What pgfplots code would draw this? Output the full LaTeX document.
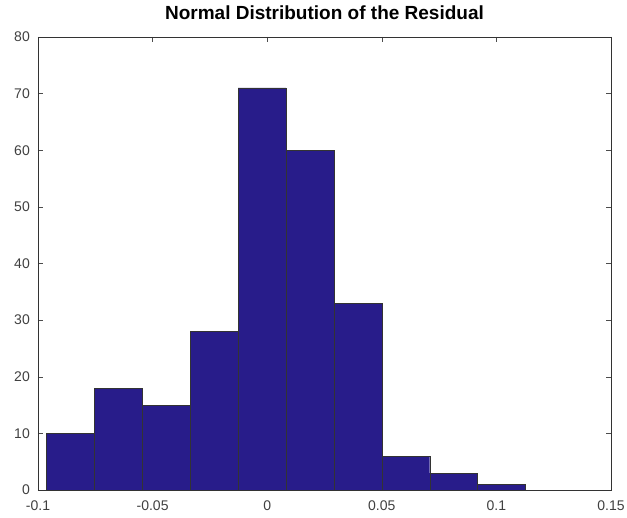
\documentclass[border=0pt]{standalone}
\usepackage{pgfplots}
\pgfplotsset{compat=1.18}
\usepackage{fontspec}
\setmainfont{Liberation Sans}
\definecolor{barblue}{RGB}{40,28,138}
\begin{document}
\begin{tikzpicture}
\begin{axis}[
  scale only axis,
  width=573pt, height=453pt,
  xmin=-0.1, xmax=0.15, ymin=0, ymax=80,
  xtick={-0.1,-0.05,0,0.05,0.1,0.15},
  xticklabels={-0.1,-0.05,0,0.05,0.1,0.15},
  ytick={0,10,...,80},
  tick pos=both, tick align=inside,
  major tick length=5pt,
  /pgf/number format/assume math mode=true,
  tick label style={font=\fontsize{14}{15}\selectfont, text=black!75},
  xticklabel style={anchor=base, inner sep=0pt, yshift=-21pt},
  yticklabel style={anchor=east, inner sep=0pt, xshift=-8pt},
  title={\bfseries Normal Distribution of the Residual},
  title style={font=\fontsize{19}{20}\selectfont, anchor=base, inner sep=0pt, at={(axis description cs:0.5,1)}, yshift=11pt},
  axis line style={black!80, line width=0.6pt},
  every tick/.style={black!70},
  scaled x ticks=false,
]
\addplot[ybar interval, fill=barblue, draw=black!80, line width=0.4pt] coordinates {
(-0.0963,10) (-0.0754,18) (-0.0545,15) (-0.0336,28) (-0.0127,71)
(0.0082,60) (0.0291,33) (0.0500,6) (0.0709,3) (0.0918,1) (0.1127,1)
};
\end{axis}
\pgfresetboundingbox
\path (current axis.south west) ++(-38pt,-28pt) coordinate (bl);
\path (current axis.north east) ++(16pt,37pt) coordinate (tr);
\path[use as bounding box] (bl) rectangle (tr);
\end{tikzpicture}
\end{document}
